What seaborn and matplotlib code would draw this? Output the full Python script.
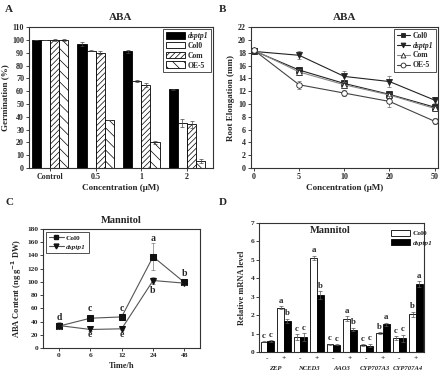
import numpy as np
import pandas as pd
import matplotlib
matplotlib.use("Agg")
import matplotlib.pyplot as plt
import seaborn as sns
from matplotlib.patches import Patch
from matplotlib.lines import Line2D

sns.set_style("ticks")
plt.rcParams['font.family'] = ['Liberation Serif', 'DejaVu Serif']
plt.rcParams['font.weight'] = 'bold'
plt.rcParams['axes.labelweight'] = 'bold'
plt.rcParams['axes.titleweight'] = 'bold'
plt.rcParams['hatch.linewidth'] = 0.5
plt.rcParams['axes.edgecolor'] = '#333333'
plt.rcParams['axes.linewidth'] = 0.8

# ---- panel A data (germination, ABA) ----
conc_a = ["Control", "0.5", "1", "2"]
geno_a = ["dsptp1", "Col0", "Com", "OE-5"]
germ_dsptp1 = [100, 96.5, 91, 61.5]
germ_col0 = [100, 91.5, 68, 35]
germ_com = [100, 90, 65, 34]
germ_oe5 = [100, 37.5, 20, 5.5]
err_dsptp1 = [0.3, 1.5, 1.0, 0.4]
err_col0 = [0.3, 0.5, 1.0, 3.0]
err_com = [0.5, 1.0, 1.5, 2.5]
err_oe5 = [1.0, 0.3, 1.0, 1.5]

# ---- panel B data (root elongation, ABA) ----
conc_b = ["0", "5", "10", "20", "50"]
root_col0 = [18.3, 15.3, 13.2, 11.5, 9.5]
root_dsptp1 = [18.2, 17.6, 14.3, 13.5, 10.6]
root_com = [18.4, 15.0, 13.0, 11.4, 9.3]
root_oe5 = [18.4, 13.0, 11.7, 10.4, 7.3]
rerr_col0 = [0.3, 0.4, 0.4, 0.3, 0.4]
rerr_dsptp1 = [0.3, 0.6, 0.9, 0.8, 0.5]
rerr_com = [0.3, 0.4, 0.4, 0.3, 0.4]
rerr_oe5 = [0.3, 0.6, 0.5, 0.8, 0.5]

# ---- panel C data (ABA content, mannitol) ----
time_c = ["0", "6", "12", "24", "48"]
aba_col0 = [33, 45, 47, 138, 99]
aba_dsptp1 = [34, 28, 29, 102, 98]
aerr_col0 = [3, 2, 3, 20, 2]
aerr_dsptp1 = [5, 2, 2, 5, 3]
let_col0 = ["d", "c", "c", "a", "b"]
let_dsptp1 = ["", "e", "e", "b", ""]

# ---- panel D data (relative mRNA, mannitol) ----
genes = ["ZEP", "NCED3", "AAO3", "CYP707A3", "CYP707A4"]
treat = ["-", "+"]
mrna_col0 = [0.55, 2.4, 0.82, 5.1, 0.42, 1.82, 0.38, 1.02, 0.75, 2.05]
mrna_dsptp1 = [0.58, 1.7, 0.82, 3.1, 0.40, 1.22, 0.35, 1.50, 0.75, 3.70]
merr_col0 = [0.03, 0.08, 0.15, 0.12, 0.03, 0.12, 0.05, 0.05, 0.10, 0.15]
merr_dsptp1 = [0.05, 0.10, 0.20, 0.20, 0.03, 0.10, 0.10, 0.08, 0.20, 0.15]
let_m_col0 = ["c", "a", "c", "a", "c", "a", "c", "b", "c", "b"]
let_m_dsptp1 = ["c", "b", "c", "b", "c", "b", "c", "a", "c", "a"]

TICK = 5.8
LAB = 6.5
TITLE = 8

fig = plt.figure(figsize=(4.4, 3.71), dpi=100)


def style_ax(ax):
    ax.tick_params(direction='out', length=2, width=0.6, labelsize=TICK, pad=1.5)
    for s in ax.spines.values():
        s.set_visible(True)


# ================= A =================
axA = fig.add_axes([0.066, 0.547, 0.418, 0.38])
dfA = pd.DataFrame({
    "conc": conc_a * 4,
    "geno": np.repeat(geno_a, len(conc_a)),
    "val": germ_dsptp1 + germ_col0 + germ_com + germ_oe5,
})
sns.barplot(data=dfA, x="conc", y="val", hue="geno", order=conc_a, hue_order=geno_a,
            palette=["black", "white", "white", "white"], edgecolor="black",
            linewidth=0.6, width=0.8, errorbar=None, legend=False, ax=axA)
hatches = ["", "", "//////", "\\\\\\"]
errs_a = [err_dsptp1, err_col0, err_com, err_oe5]
for cont, h, e in zip(axA.containers, hatches, errs_a):
    xs, ys = [], []
    for p in cont.patches:
        p.set_hatch(h)
        xs.append(p.get_x() + p.get_width() / 2)
        ys.append(p.get_height())
    axA.errorbar(xs, ys, yerr=e, fmt='none', ecolor='#444444', elinewidth=0.5, capsize=1.2, capthick=0.5)
axA.set_ylim(0, 110)
axA.set_yticks(range(0, 111, 10))
axA.set_xlim(-0.46, 3.57)
axA.set_xlabel("Concentration (μM)", fontsize=LAB, labelpad=2)
axA.set_ylabel("Germination (%)", fontsize=LAB, labelpad=2)
axA.set_title("ABA", fontsize=TITLE, pad=5)
style_ax(axA)
legA = axA.legend(axA.containers, geno_a, loc="upper right", fontsize=TICK - 0.3, frameon=True,
                  fancybox=False, edgecolor="black", handlelength=2.6, handleheight=1.0,
                  borderpad=0.3, labelspacing=0.25, handletextpad=0.3, borderaxespad=0.3)
legA.get_frame().set_linewidth(0.6)
legA.get_texts()[0].set_style("italic")

# ================= B =================
axB = fig.add_axes([0.570, 0.547, 0.425, 0.38])
xb = np.arange(len(conc_b))
seriesB = [
    ("Col0", root_col0, rerr_col0, "s", "#222222", "#222222"),
    ("dsptp1", root_dsptp1, rerr_dsptp1, "v", "#222222", "#222222"),
    ("Com", root_com, rerr_com, "^", "#888888", "white"),
    ("OE-5", root_oe5, rerr_oe5, "o", "#444444", "white"),
]
handlesB = []
for name, vals, err, mk, col, fc in seriesB:
    axB.errorbar(xb, vals, yerr=err, fmt='none', ecolor='#666666', elinewidth=0.5, capsize=1.2, capthick=0.5)
    sns.lineplot(x=xb, y=vals, ax=axB, color=col, linewidth=0.8, marker=mk, markersize=4,
                 markerfacecolor=fc, markeredgecolor="#222222", markeredgewidth=0.6, legend=False)
    handlesB.append(Line2D([], [], color=col, lw=0.8, marker=mk, markersize=3.5,
                           markerfacecolor=fc, markeredgecolor="#222222", markeredgewidth=0.6))
axB.set_xticks(xb)
axB.set_xticklabels(conc_b)
axB.set_xlim(-0.07, 4.07)
axB.set_ylim(0, 22)
axB.set_yticks(range(0, 23, 2))
axB.set_xlabel("Concentration (μM)", fontsize=LAB, labelpad=2)
axB.set_ylabel("Root Elongation (mm)", fontsize=LAB, labelpad=2)
axB.set_title("ABA", fontsize=TITLE, pad=5)
style_ax(axB)
legB = axB.legend(handlesB, [s[0] for s in seriesB], loc="upper right", fontsize=TICK - 0.3, frameon=True,
                  fancybox=False, edgecolor="black", handlelength=1.8, borderpad=0.3,
                  labelspacing=0.25, handletextpad=0.3, borderaxespad=0.3)
legB.get_frame().set_linewidth(0.6)
legB.get_texts()[1].set_style("italic")

# ================= C =================
axC = fig.add_axes([0.098, 0.062, 0.357, 0.321])
xc = np.arange(len(time_c))
for vals, err, mk in [(aba_col0, aerr_col0, "s"), (aba_dsptp1, aerr_dsptp1, "v")]:
    axC.errorbar(xc, vals, yerr=err, fmt='none', ecolor='#777777', elinewidth=0.5, capsize=1.2, capthick=0.5)
    sns.lineplot(x=xc, y=vals, ax=axC, color="#555555", linewidth=0.8, marker=mk, markersize=4.5,
                 markerfacecolor="#111111", markeredgecolor="#111111", legend=False)
letter_y_col0 = [46, 59, 59, 166, 112]
letter_y_dsptp1 = [0, 20, 20, 87, 0]
for i in range(len(time_c)):
    axC.text(xc[i], letter_y_col0[i], let_col0[i], ha="center", va="center", fontsize=7)
    if let_dsptp1[i]:
        axC.text(xc[i], letter_y_dsptp1[i], let_dsptp1[i], ha="center", va="center", fontsize=7)
axC.set_xticks(xc)
axC.set_xticklabels(time_c)
axC.set_xlim(-0.5, 4.5)
axC.set_ylim(0, 180)
axC.set_yticks(range(0, 181, 20))
axC.set_xlabel("Time/h", fontsize=LAB - 0.5, labelpad=3)
axC.set_ylabel("ABA Content (ng g$^{-1}$ DW)", fontsize=LAB - 0.5, labelpad=2)
axC.set_title("Mannitol", fontsize=TITLE - 0.5, pad=4)
style_ax(axC)
axC.tick_params(labelsize=TICK - 0.5)
handlesC = [Line2D([], [], color="#555555", lw=0.8, marker=m, markersize=3.5,
                   markerfacecolor="#111111", markeredgecolor="#111111") for m in ["s", "v"]]
legC = axC.legend(handlesC, ["Col0", "dsptp1"], loc="upper left", fontsize=TICK - 0.5, frameon=True,
                  fancybox=False, edgecolor="black", handlelength=2.0, borderpad=0.4,
                  labelspacing=0.35, handletextpad=0.3, borderaxespad=0.4)
legC.get_frame().set_linewidth(0.6)
legC.get_texts()[1].set_style("italic")

# ================= D =================
axD = fig.add_axes([0.589, 0.051, 0.375, 0.348])
cats_d = [g + t for g in genes for t in treat]
dfD = pd.DataFrame({
    "cat": cats_d * 2,
    "geno": ["Col0"] * len(cats_d) + ["dsptp1"] * len(cats_d),
    "val": mrna_col0 + mrna_dsptp1,
})
sns.barplot(data=dfD, x="cat", y="val", hue="geno", order=cats_d, hue_order=["Col0", "dsptp1"],
            palette=["white", "black"], edgecolor="black", linewidth=0.6, width=0.8,
            errorbar=None, legend=False, ax=axD)
for cont, err, lets in zip(axD.containers, [merr_col0, merr_dsptp1], [let_m_col0, let_m_dsptp1]):
    xs = [p.get_x() + p.get_width() / 2 for p in cont.patches]
    ys = [p.get_height() for p in cont.patches]
    axD.errorbar(xs, ys, yerr=err, fmt='none', ecolor='#555555', elinewidth=0.5, capsize=1.2, capthick=0.5)
    for x, y, e, l in zip(xs, ys, err, lets):
        axD.text(x, y + e + 0.08, l, ha="center", va="bottom", fontsize=6.3)
axD.set_ylim(0, 7)
axD.set_yticks(range(0, 8))
axD.set_xlim(-0.5, len(cats_d) - 0.5)
axD.set_xticks(range(len(cats_d)))
axD.set_xticklabels(treat * len(genes))
axD.set_xlabel("")
axD.set_ylabel("Relative mRNA level", fontsize=LAB - 0.5, labelpad=3)
style_ax(axD)
axD.tick_params(labelsize=TICK - 0.5)
axD.tick_params(axis="x", length=0, pad=3)
for i, g in enumerate(genes):
    axD.text(2 * i + 0.5, -0.11, g, transform=axD.get_xaxis_transform(), ha="center", va="top",
             fontsize=TICK - 1.0, style="italic")
axD.text(0.43, 0.94, "Mannitol", transform=axD.transAxes, ha="center", va="center", fontsize=TITLE - 0.5)
legD = axD.legend([Patch(facecolor="white", edgecolor="black", lw=0.6),
                   Patch(facecolor="black", edgecolor="black", lw=0.6)],
                  ["Col0", "dsptp1"], loc="upper left", bbox_to_anchor=(0.76, 1.0), fontsize=TICK - 0.5,
                  frameon=False, handlelength=2.6, handleheight=0.9, labelspacing=0.4, handletextpad=0.3)
legD.get_texts()[1].set_style("italic")

# panel letters
for lab, x, y in [("A", 0.012, 0.975), ("B", 0.497, 0.975), ("C", 0.012, 0.455), ("D", 0.497, 0.455)]:
    fig.text(x, y, lab, fontsize=8, ha="left", va="center")

fig.savefig("out.png", dpi=100)
